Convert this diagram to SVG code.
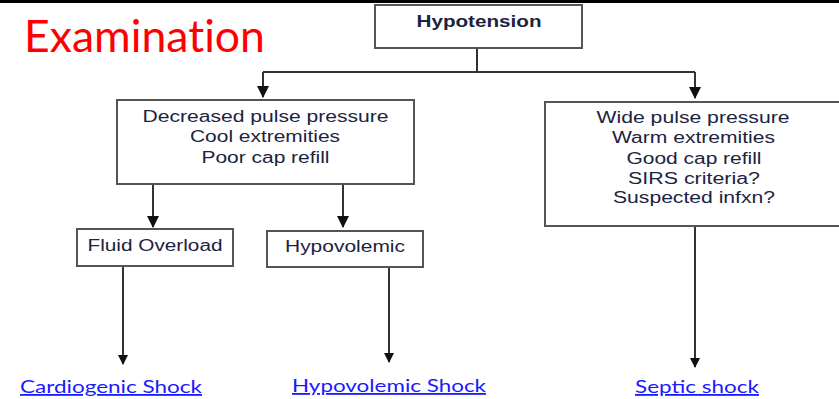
<svg xmlns="http://www.w3.org/2000/svg" width="839" height="399" viewBox="0 0 839 399">
<style>
.box{fill:#fff;stroke:#555;stroke-width:2}
.t{font-family:"Liberation Sans",Arial,sans-serif;font-size:16px;fill:#1c2340;text-anchor:middle}
.ln{stroke:#333;stroke-width:2;fill:none}
.lnk{font-family:Lato,"Open Sans",sans-serif;font-size:18px;fill:#1a1aff;text-decoration:underline}
</style>
<defs>
<marker id="ah" markerWidth="10" markerHeight="10" refX="9" refY="5" orient="auto" markerUnits="userSpaceOnUse" viewBox="0 0 10 10">
<path d="M0,0 L10,5 L0,10 Z" fill="#111"/>
</marker>
<marker id="ah2" markerWidth="12" markerHeight="12" refX="11" refY="6" orient="auto" markerUnits="userSpaceOnUse" viewBox="0 0 12 12">
<path d="M0,0 L12,6 L0,12 Z" fill="#111"/>
</marker>
</defs>
<rect x="0" y="0" width="839" height="399" fill="#fff"/>
<rect x="0" y="0" width="839" height="3" fill="#000"/>
<text x="24" y="52" font-family="Lato,'Open Sans',sans-serif" font-size="44" fill="#ff0000" style="font-variant-ligatures:none" textLength="241" lengthAdjust="spacingAndGlyphs">Examination</text>

<g id="connectors">
<path class="ln" d="M477,48 V72"/>
<path class="ln" d="M263,72 H695"/>
<path class="ln" d="M263,72 V97" marker-end="url(#ah2)"/>
<path class="ln" d="M695,72 V98" marker-end="url(#ah2)"/>
<path class="ln" d="M153,184 V227" marker-end="url(#ah2)"/>
<path class="ln" d="M343,184 V227" marker-end="url(#ah2)"/>
<path class="ln" d="M123,266 V364" marker-end="url(#ah)"/>
<path class="ln" d="M389,267 V362" marker-end="url(#ah)"/>
<path class="ln" d="M695,226 V367" marker-end="url(#ah)"/>
</g>

<g id="hypotension">
<rect class="box" x="375" y="5" width="207" height="43"/>
<text class="t" x="479" y="27" font-weight="bold" textLength="125" lengthAdjust="spacingAndGlyphs">Hypotension</text>
</g>
<g id="decreased">
<rect class="box" x="117" y="100" width="297" height="84"/>
<text class="t" x="265.5" y="122" textLength="246" lengthAdjust="spacingAndGlyphs">Decreased pulse pressure</text>
<text class="t" x="265" y="142" textLength="150" lengthAdjust="spacingAndGlyphs">Cool extremities</text>
<text class="t" x="265.5" y="163" textLength="128" lengthAdjust="spacingAndGlyphs">Poor cap refill</text>
</g>
<g id="wide">
<rect class="box" x="545" y="102" width="300" height="124"/>
<text class="t" x="693" y="123" textLength="193" lengthAdjust="spacingAndGlyphs">Wide pulse pressure</text>
<text class="t" x="693.5" y="143" textLength="163" lengthAdjust="spacingAndGlyphs">Warm extremities</text>
<text class="t" x="694" y="164" textLength="135" lengthAdjust="spacingAndGlyphs">Good cap refill</text>
<text class="t" x="694" y="184" textLength="132" lengthAdjust="spacingAndGlyphs">SIRS criteria?</text>
<text class="t" x="694" y="203" textLength="162" lengthAdjust="spacingAndGlyphs">Suspected infxn?</text>
</g>
<g id="fluid">
<rect class="box" x="77" y="229" width="156" height="37"/>
<text class="t" x="155" y="251" textLength="135" lengthAdjust="spacingAndGlyphs">Fluid Overload</text>
</g>
<g id="hypovolemic">
<rect class="box" x="267" y="231" width="156" height="36"/>
<text class="t" x="345" y="252" textLength="120" lengthAdjust="spacingAndGlyphs">Hypovolemic</text>
</g>
<g id="cardiogenic-link">
<text class="lnk" x="20" y="393" textLength="182" lengthAdjust="spacingAndGlyphs">Cardiogenic Shock</text>
</g>
<g id="hypovolemic-link">
<text class="lnk" x="292" y="392" textLength="194" lengthAdjust="spacingAndGlyphs">Hypovolemic Shock</text>
</g>
<g id="septic-link">
<text class="lnk" x="635" y="393" textLength="124" lengthAdjust="spacingAndGlyphs">Septic shock</text>
</g>
</svg>
